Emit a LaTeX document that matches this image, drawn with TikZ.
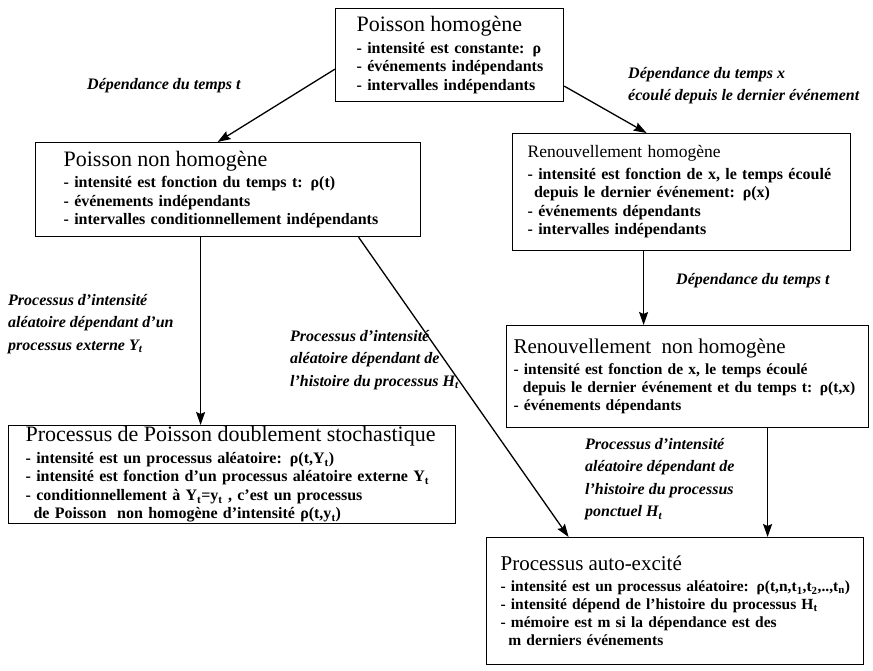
\documentclass[tikz,border=0pt]{standalone}
\usepackage{fontspec}
\setmainfont{Liberation Serif}
\usetikzlibrary{arrows.meta}

\newcommand\titre[2][22]{\mbox{\fontsize{#1}{#1}\selectfont\mdseries #2}\\[3pt]}

\begin{document}
\begin{tikzpicture}[x=1pt,y=-1pt,
  boite/.style={draw,line width=1.2pt,anchor=north west,align=left,inner sep=0pt,
    font=\fontsize{16}{18.5}\selectfont\bfseries},
  taille/.style={font=\fontsize{#1}{18}\selectfont\bfseries},
  etiq/.style={anchor=north west,align=left,inner sep=0pt,
    font=\fontsize{16}{22.5}\selectfont\bfseries\itshape},
  fleche/.style={line width=1.3pt,-{Stealth[length=13pt,width=9pt,inset=2pt]}}]
\useasboundingbox[fill=white] (0,0) rectangle (873,670);

% les processus
\node[boite,minimum width=228pt,minimum height=93pt,text width=186pt] (ph) at (335,8)
  {\titre{Poisson homogène}\mbox{- intensité est constante: ρ}\\\mbox{- événements indépendants}\\\mbox{- intervalles indépendants}};
\node[boite,minimum width=385pt,minimum height=94pt,text width=329pt] (pnh) at (35,142)
  {\titre{Poisson non homogène}- intensité est fonction du temps t: ρ(t)\\- événements indépendants\\- intervalles conditionnellement indépendants};
\node[boite,minimum width=338pt,minimum height=117pt,text width=308pt] (rh) at (512,133)
  {\titre[17.5]{Renouvellement homogène}\mbox{- intensité est fonction de x, le temps écoulé}\\\hspace*{0.4em}depuis le dernier événement: ρ(x)\\- événements dépendants\\- intervalles indépendants};
\node[boite,taille=15.5,minimum width=362pt,minimum height=102pt,text width=348pt] (rnh) at (506,325)
  {\titre[21]{Renouvellement\ \ non homogène}- intensité est fonction de x, le temps écoulé\\\mbox{\hspace*{0.6em}depuis le dernier événement et du temps t: ρ(t,x)}\\- événements dépendants};
\node[boite,minimum width=447pt,minimum height=98pt,text width=413pt] (pds) at (8,425)
  {\titre{Processus de Poisson doublement stochastique}- intensité est un processus aléatoire: ρ(t,Y\textsubscript{t})\\- intensité est fonction d’un processus aléatoire externe Y\textsubscript{t}\\- conditionnellement à Y\textsubscript{t}=y\textsubscript{t} , c’est un processus\\\hspace*{0.5em}de Poisson\ \ non homogène d’intensité ρ(t,y\textsubscript{t})};
\node[boite,taille=15.5,minimum width=377pt,minimum height=127pt,text width=349pt] (pae) at (486,537)
  {\titre[21]{Processus auto-excité}\mbox{- intensité est un processus aléatoire: ρ(t,n,t\textsubscript{1},t\textsubscript{2},..,t\textsubscript{n})}\\- intensité dépend de l’histoire du processus H\textsubscript{t}\\- mémoire est m si la dépendance est des\\\hspace*{0.5em}m derniers événements};

% les etiquettes
\node[etiq] (e1) at (87,78) {Dépendance du temps t};
\node[etiq] (e2) at (628,67) {Dépendance du temps x\\écoulé depuis le dernier événement};
\node[etiq] (e3) at (676,273) {Dépendance du temps t};
\node[etiq] (e4) at (8,294) {Processus d’intensité\\aléatoire dépendant d’un\\processus externe Y\textsubscript{t}};
\node[etiq] (e5) at (290,330) {Processus d’intensité\\aléatoire dépendant de\\l’histoire du processus H\textsubscript{t}};
\node[etiq] (e6) at (585,438) {Processus d’intensité\\aléatoire dépendant de\\l’histoire du processus\\ponctuel H\textsubscript{t}};

% les fleches
\draw[fleche] ([yshift=-14pt]ph.west) -- ([xshift=-10.5pt]pnh.north);
\draw[fleche] ([yshift=-31pt]ph.east) -- ([xshift=-35pt]rh.north);
\draw[fleche] ([xshift=-38pt]rh.south) -- ([xshift=-38pt]rh.south |- rnh.north);
\draw[fleche] ([xshift=-27.5pt]pnh.south) -- ([xshift=-27.5pt]pnh.south |- pds.north);
\draw[fleche] ([xshift=130.5pt]pnh.south) -- ([xshift=-106.5pt]pae.north);
\draw[fleche] ([xshift=80pt]rnh.south) -- ([xshift=80pt]rnh.south |- pae.north);
\end{tikzpicture}
\end{document}
